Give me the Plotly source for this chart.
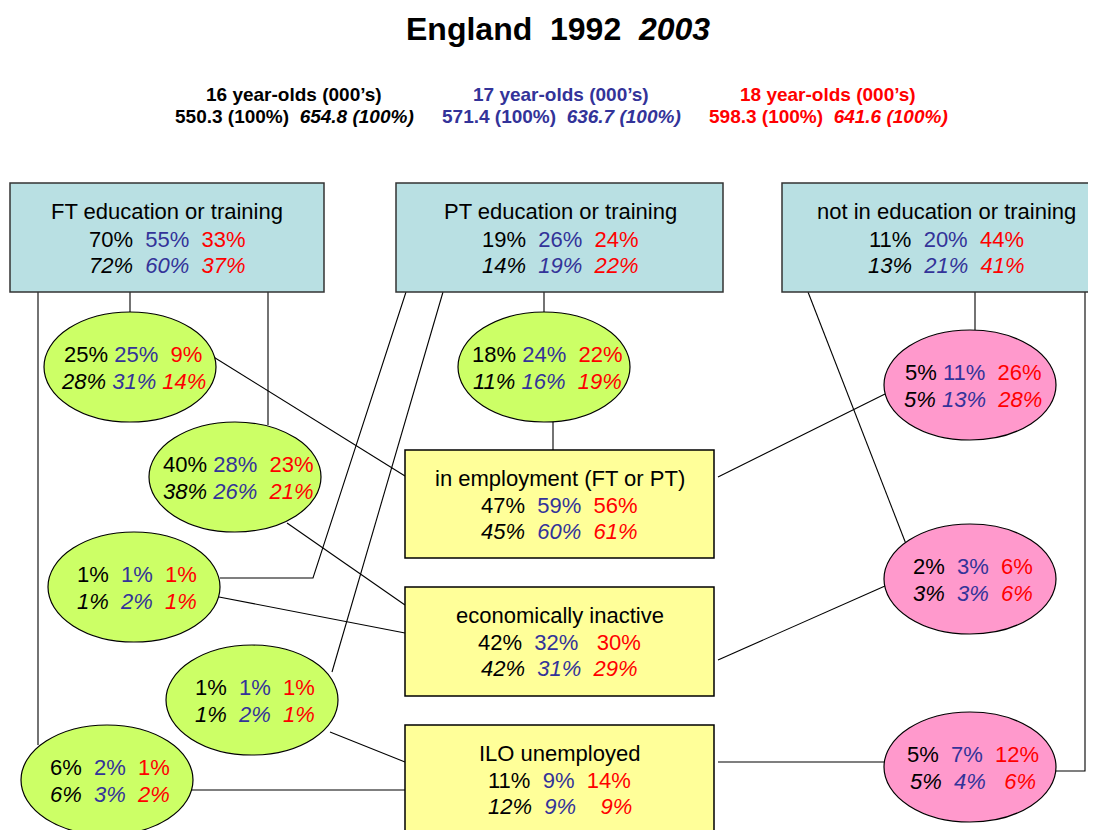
import plotly.graph_objects as go

# ---------------- data ----------------
age_labels = ["16 year-olds (000\u2019s)", "17 year-olds (000\u2019s)", "18 year-olds (000\u2019s)"]
totals_1992 = [550.3, 571.4, 598.3]
totals_2003 = [654.8, 636.7, 641.6]

group_names = ["FT education or training", "PT education or training", "not in education or training"]
group_1992 = [[70, 55, 33], [19, 26, 24], [11, 20, 44]]
group_2003 = [[72, 60, 37], [14, 19, 22], [13, 21, 41]]

outcome_names = ["in employment (FT or PT)", "economically inactive", "ILO unemployed"]
outcome_1992 = [[47, 59, 56], [42, 32, 30], [11, 9, 14]]
outcome_2003 = [[45, 60, 61], [42, 31, 29], [12, 9, 9]]

# flows: (from group, to outcome)
flow_from = [0, 0, 0, 1, 1, 1, 2, 2, 2]
flow_to = [0, 1, 2, 0, 1, 2, 0, 1, 2]
flow_1992 = [[25, 25, 9], [40, 28, 23], [6, 2, 1],
             [18, 24, 22], [1, 1, 1], [1, 1, 1],
             [5, 11, 26], [2, 3, 6], [5, 7, 12]]
flow_2003 = [[28, 31, 14], [38, 26, 21], [6, 3, 2],
             [11, 16, 19], [1, 2, 1], [1, 2, 1],
             [5, 13, 28], [3, 3, 6], [5, 4, 6]]

# ---------------- style / layout ----------------
AGE_COLORS = ["#000000", "#333399", "#ff0000"]
CYAN, YELLOW, GREEN, PINK = "#b9e0e3", "#ffff99", "#ccff66", "#ff99cc"
FONT = "Liberation Sans, Arial, sans-serif"
W, H = 1096, 830
OFF = 8  # default page margin of the html body

group_boxes = [(10, 183, 324, 292), (396, 183, 723, 292), (782, 183, 1110, 292)]
group_text_x = [167, 560, 946]
outcome_boxes = [(405, 450, 714, 558), (405, 587, 714, 696), (405, 725, 714, 845)]
ell_centers = [(130, 367), (235, 477), (107, 780),
               (544, 367), (134, 587), (252, 700),
               (970, 385), (970, 579), (970, 767)]
ERX, ERY = 86, 55

# spacing (number of spaces) between the three values on each text line
group_gaps = [[(2, 2), (2, 2)]] * 3
outcome_gaps = [[(2, 2), (2, 2)], [(2, 3), (2, 2)], [(2, 2), (2, 4)]]
flow_gaps = [[(1, 2), (1, 1)], [(1, 2), (1, 2)], [(2, 2), (2, 2)],
             [(1, 2), (1, 2)], [(2, 2), (2, 2)], [(2, 2), (2, 2)],
             [(1, 2), (1, 2)], [(2, 2), (2, 2)], [(2, 2), (2, 3)]]


def val_line(vals, italic, gaps):
    parts = [f"<span style='color:{c}'>{v}%</span>" for v, c in zip(vals, AGE_COLORS)]
    s = parts[0] + "\u00a0" * gaps[0] + parts[1] + "\u00a0" * gaps[1] + parts[2]
    return f"<i>{s}</i>" if italic else s


shapes = []
annotations = []
LINE = dict(color="#000000", width=1.1)

connectors = [
    "M 38 292 L 38 745",
    "M 130 292 L 130 312",
    "M 268 292 L 268 425",
    "M 212 356 L 405 476",
    "M 287 523 L 405 605",
    "M 406 292 L 313 578 L 220 578",
    "M 219 597 L 405 633",
    "M 443 292 L 332 672",
    "M 330 732 L 405 762",
    "M 191 790 L 405 790",
    "M 544 292 L 544 312",
    "M 553 421 L 553 450",
    "M 975 292 L 975 330",
    "M 885 394 L 718 477",
    "M 808 292 L 906 544",
    "M 885 586 L 718 660",
    "M 1085 292 L 1085 771 L 1054 771",
    "M 884 762 L 718 762",
]
for p in connectors:
    shapes.append(dict(type="path", path=p, xref="x", yref="y", line=LINE))

FS = 22
for i, (x0, y0, x1, y1) in enumerate(group_boxes):
    shapes.append(dict(type="rect", x0=x0, y0=y0, x1=x1, y1=y1, xref="x", yref="y",
                       fillcolor=CYAN, line=dict(color="#333333", width=1.5)))
    cx = group_text_x[i]
    annotations.append(dict(x=cx, y=211, text=group_names[i], font=dict(size=FS, color="#000")))
    annotations.append(dict(x=cx, y=239, text=val_line(group_1992[i], False, group_gaps[i][0]), font=dict(size=FS)))
    annotations.append(dict(x=cx, y=265, text=val_line(group_2003[i], True, group_gaps[i][1]), font=dict(size=FS)))

for i, (x0, y0, x1, y1) in enumerate(outcome_boxes):
    shapes.append(dict(type="rect", x0=x0, y0=y0, x1=x1, y1=y1, xref="x", yref="y",
                       fillcolor=YELLOW, line=dict(color="#000000", width=1.5)))
    cx = (x0 + x1) / 2
    annotations.append(dict(x=cx, y=y0 + 28, text=outcome_names[i], font=dict(size=FS, color="#000")))
    annotations.append(dict(x=cx, y=y0 + 55, text=val_line(outcome_1992[i], False, outcome_gaps[i][0]), font=dict(size=FS)))
    annotations.append(dict(x=cx, y=y0 + 81, text=val_line(outcome_2003[i], True, outcome_gaps[i][1]), font=dict(size=FS)))

for k, (cx, cy) in enumerate(ell_centers):
    fill = PINK if flow_from[k] == 2 else GREEN
    shapes.append(dict(type="circle", x0=cx - ERX, x1=cx + ERX, y0=cy - ERY, y1=cy + ERY,
                       xref="x", yref="y", fillcolor=fill, line=dict(color="#000000", width=1.2)))
    annotations.append(dict(x=cx + 3, y=cy - 13, text=val_line(flow_1992[k], False, flow_gaps[k][0]), font=dict(size=FS)))
    annotations.append(dict(x=cx + 3, y=cy + 14, text=val_line(flow_2003[k], True, flow_gaps[k][1]), font=dict(size=FS)))

annotations.append(dict(x=558, y=29, text="<b>England\u00a0\u00a01992\u00a0\u00a0<i>2003</i></b>",
                        font=dict(size=32, color="#000")))
header_x = [294, 561, 828]
for i in range(3):
    c = AGE_COLORS[i]
    annotations.append(dict(x=header_x[i], y=94, text=f"<b>{age_labels[i]}</b>",
                            font=dict(size=19, color=c)))
    annotations.append(dict(x=header_x[i], y=116,
                            text=f"<b>{totals_1992[i]} (100%)\u00a0\u00a0<i>{totals_2003[i]} (100%)</i></b>",
                            font=dict(size=19, color=c)))

for a in annotations:
    a.update(xref="x", yref="y", showarrow=False, xanchor="center", yanchor="middle")
    a["font"].setdefault("family", FONT)

fig = go.Figure()
fig.add_trace(go.Scatter(x=[OFF, W], y=[OFF, H], mode="markers", marker=dict(opacity=0),
                         hoverinfo="skip", showlegend=False))
fig.update_layout(
    width=W - OFF, height=H - OFF,
    margin=dict(l=0, r=0, t=0, b=0),
    paper_bgcolor="white", plot_bgcolor="white",
    xaxis=dict(range=[OFF, W], visible=False, fixedrange=True),
    yaxis=dict(range=[H, OFF], visible=False, fixedrange=True),
    shapes=shapes, annotations=annotations,
    font=dict(family=FONT),
)
fig.write_html("out.html")
